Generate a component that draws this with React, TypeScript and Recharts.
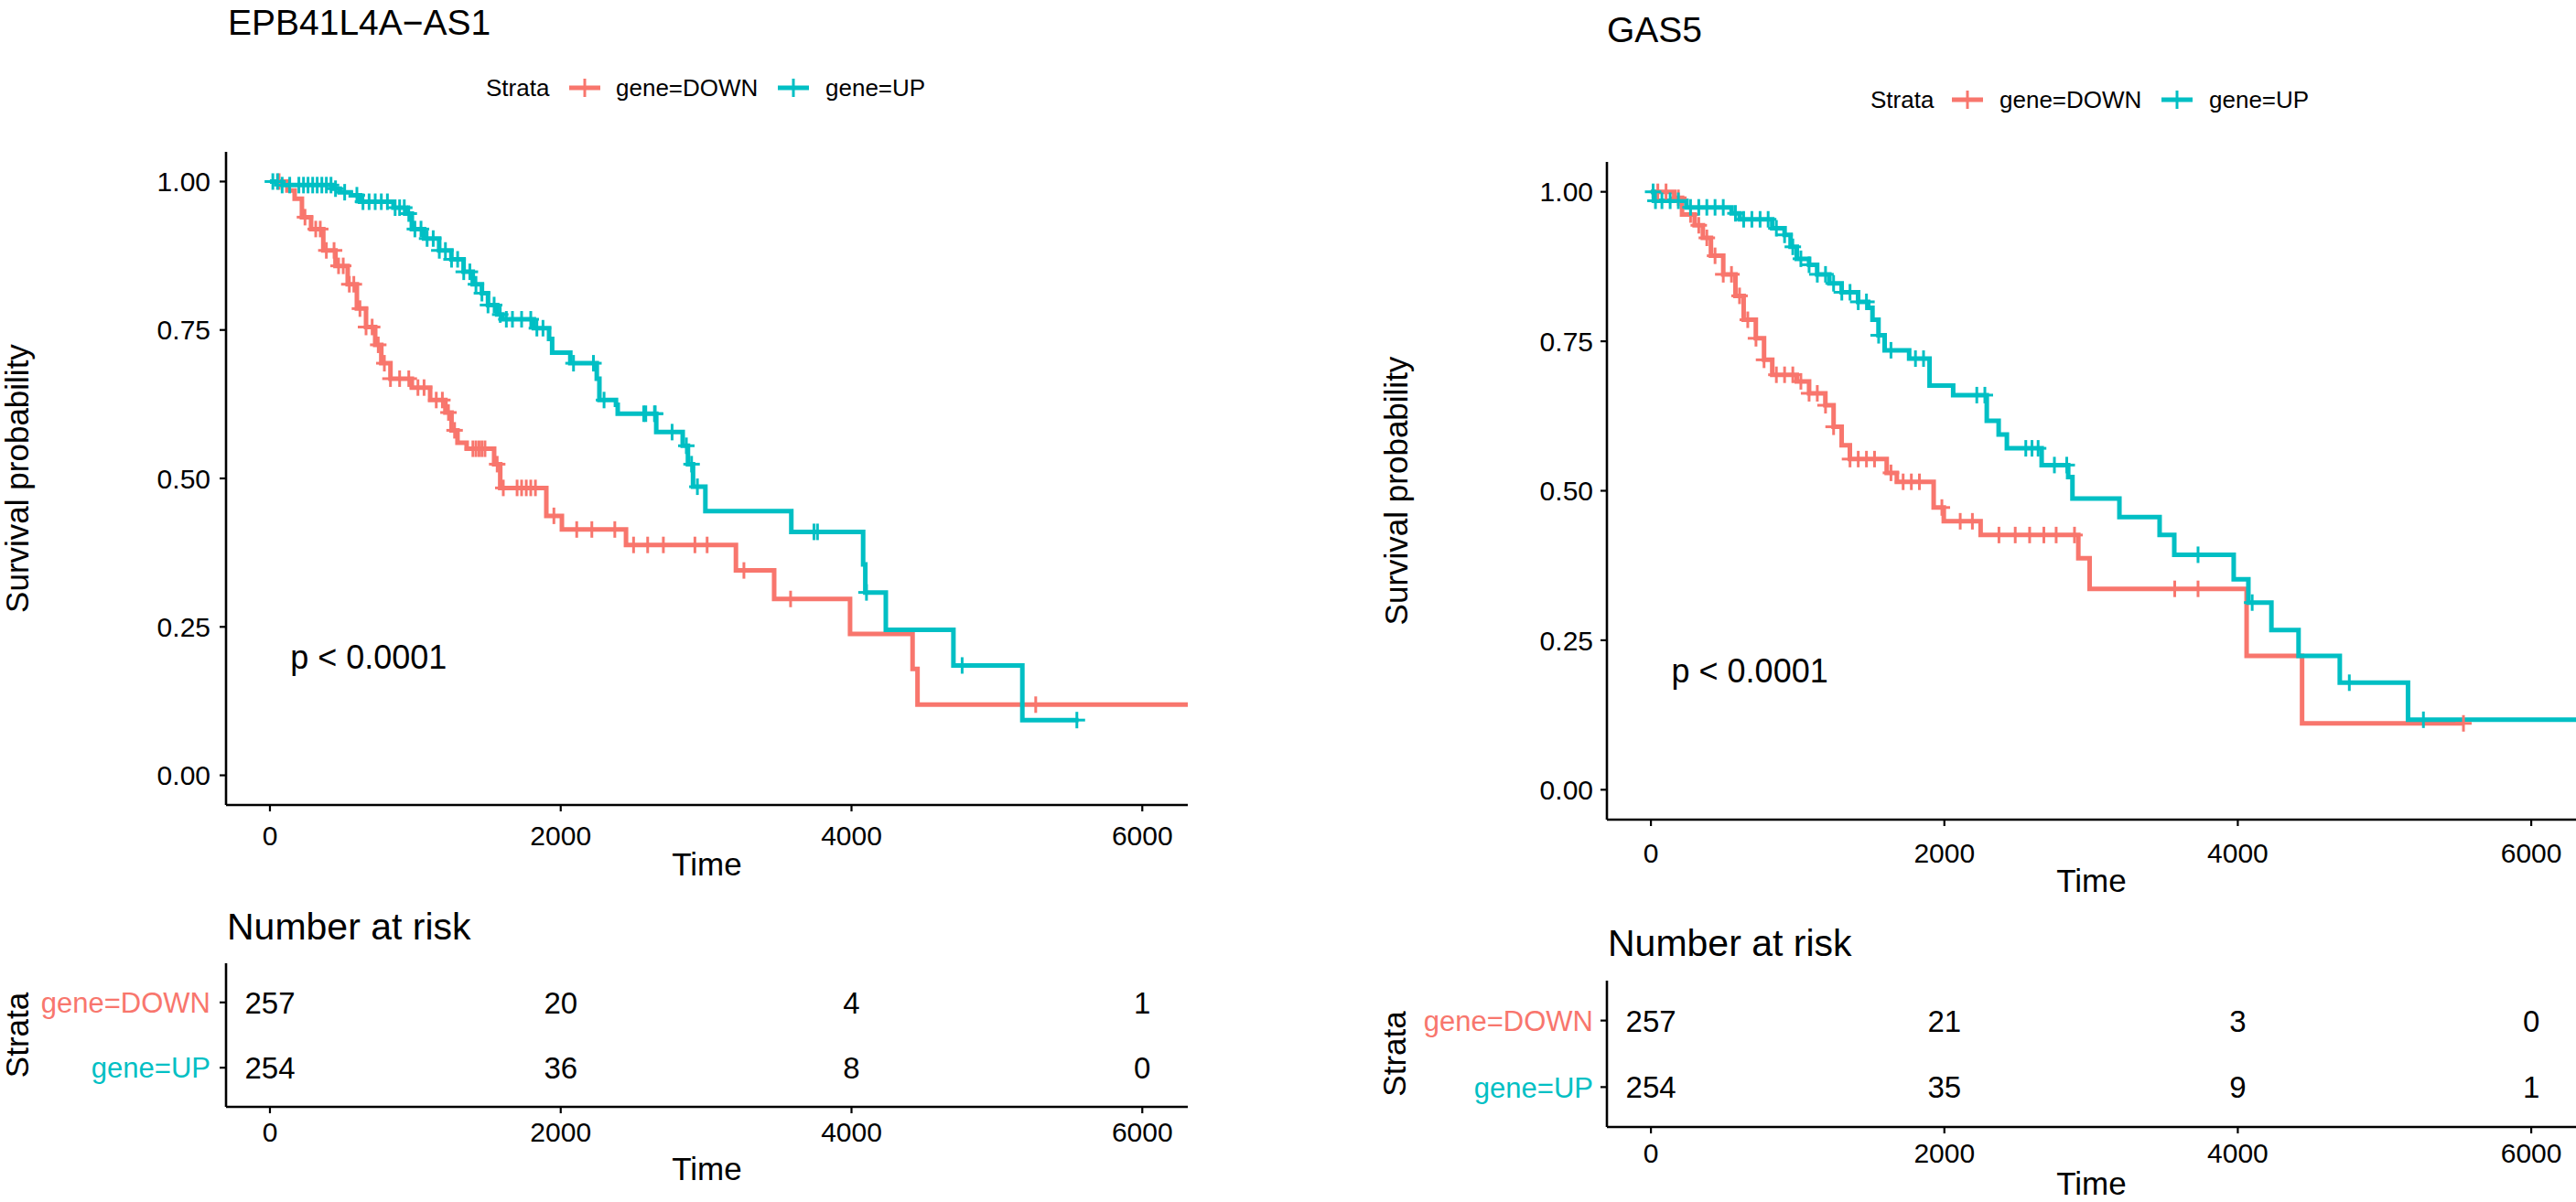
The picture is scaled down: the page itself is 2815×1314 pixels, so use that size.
import React from "react";
import { ComposedChart, Label, Line, Scatter, XAxis, YAxis } from "recharts";

const RED = "#F8766D";
const CYAN = "#00BFC4";
const FONT = '"Liberation Sans", Arial, Helvetica, sans-serif';

const TIME_TICKS = [0, 2000, 4000, 6000];
const SURV_TICKS = [0, 0.25, 0.5, 0.75, 1];
const STRATA = ["gene=DOWN", "gene=UP"];
const PVAL_TEXT = "p < 0.0001";

// EPB41L4A-AS1, [time, survival after the drop]
const EPB_DOWN = [
  [0, 1], [120, 0.985], [170, 0.971], [220, 0.94], [283, 0.92], [367, 0.884],
  [451, 0.858], [535, 0.827], [598, 0.786], [661, 0.755], [724, 0.725],
  [766, 0.694], [829, 0.668], [976, 0.653], [1102, 0.632], [1207, 0.611],
  [1249, 0.581], [1290, 0.56], [1353, 0.55], [1542, 0.524], [1584, 0.484],
  [1901, 0.437], [2008, 0.414], [2449, 0.388], [3205, 0.345], [3468, 0.297],
  [3990, 0.238], [4420, 0.179], [4454, 0.119], [6313, 0.119],
];
const EPB_UP = [
  [0, 1], [60, 0.994], [430, 0.988], [480, 0.982], [556, 0.977], [620, 0.966],
  [850, 0.956], [934, 0.946], [976, 0.92], [1060, 0.904], [1164, 0.884],
  [1248, 0.869], [1332, 0.848], [1395, 0.827], [1458, 0.812], [1500, 0.792],
  [1563, 0.776], [1600, 0.768], [1815, 0.753], [1920, 0.735], [1941, 0.712],
  [2066, 0.694], [2248, 0.668], [2266, 0.632], [2380, 0.624], [2392, 0.609],
  [2657, 0.578], [2839, 0.555], [2875, 0.524], [2910, 0.486], [2995, 0.445],
  [3586, 0.41], [4080, 0.355], [4095, 0.308], [4236, 0.245], [4701, 0.185],
  [5175, 0.093], [5561, 0.093],
];
const EPB_DOWN_CENSOR = [
  63, 241, 315, 346, 388, 441, 472, 504, 546, 577, 619, 661, 703, 745, 787,
  829, 892, 955, 1018, 1060, 1144, 1186, 1228, 1270, 1396, 1417, 1438, 1458,
  1479, 1563, 1605, 1700, 1731, 1763, 1794, 1826, 1953, 2110, 2214, 2372,
  2501, 2598, 2706, 2923, 3007, 3260, 3581, 5267,
];
const EPB_UP_CENSOR = [
  20, 52, 84, 136, 199, 231, 262, 294, 325, 357, 388, 420, 451, 514, 598, 640,
  682, 724, 766, 808, 861, 892, 924, 955, 997, 1039, 1081, 1123, 1165, 1207,
  1249, 1291, 1333, 1375, 1417, 1458, 1500, 1542, 1584, 1626, 1668, 1731,
  1794, 1836, 1878, 2088, 2225, 2298, 2571, 2585, 2645, 2650, 2766, 2864,
  2900, 2940, 3742, 3766, 4103, 4761, 5550,
];
const EPB_RISK_DOWN = [257, 20, 4, 1];
const EPB_RISK_UP = [254, 36, 8, 0];

// GAS5
const GAS_DOWN = [
  [0, 1], [159, 0.99], [212, 0.962], [298, 0.944], [354, 0.923], [409, 0.893],
  [493, 0.862], [576, 0.826], [632, 0.786], [715, 0.755], [771, 0.719],
  [827, 0.694], [994, 0.683], [1078, 0.663], [1189, 0.643], [1245, 0.607],
  [1300, 0.576], [1356, 0.553], [1607, 0.53], [1676, 0.515], [1927, 0.472],
  [1996, 0.449], [2247, 0.426], [2913, 0.387], [2990, 0.336], [4060, 0.224],
  [4438, 0.111], [5538, 0.111],
];
const GAS_UP = [
  [0, 1], [20, 0.985], [242, 0.974], [550, 0.964], [605, 0.954], [827, 0.939],
  [911, 0.928], [952, 0.908], [994, 0.888], [1078, 0.878], [1133, 0.862],
  [1216, 0.847], [1300, 0.832], [1412, 0.816], [1481, 0.806], [1510, 0.786],
  [1551, 0.76], [1593, 0.735], [1760, 0.721], [1899, 0.676], [2060, 0.66],
  [2289, 0.617], [2370, 0.594], [2426, 0.571], [2663, 0.543], [2844, 0.523],
  [2873, 0.487], [3193, 0.456], [3467, 0.426], [3567, 0.393], [3972, 0.352],
  [4072, 0.313], [4229, 0.267], [4414, 0.224], [4695, 0.179], [5160, 0.117],
  [6305, 0.117],
];
const GAS_DOWN_CENSOR = [
  47, 103, 187, 270, 326, 381, 437, 493, 549, 604, 660, 716, 771, 855, 911,
  967, 1022, 1078, 1134, 1190, 1245, 1357, 1413, 1469, 1524, 1636, 1719,
  1775, 1830, 1983, 2108, 2191, 2372, 2483, 2581, 2678, 2762, 2887, 3570,
  3729, 5538,
];
const GAS_UP_CENSOR = [
  15, 31, 75, 131, 187, 270, 326, 381, 437, 493, 576, 632, 688, 744, 799, 855,
  911, 967, 1022, 1078, 1134, 1190, 1245, 1301, 1357, 1413, 1469, 1552, 1636,
  1803, 1858, 2221, 2276, 2555, 2597, 2639, 2750, 2834, 3729, 4098, 4760,
  5265,
];
const GAS_RISK_DOWN = [257, 21, 3, 0];
const GAS_RISK_UP = [254, 35, 9, 1];

const toPoints = (steps: number[][]) => steps.map(([t, s]) => ({ t, s }));

const survAt = (steps: number[][], t: number) => {
  let s = steps[0][1];
  for (const [ts, v] of steps) {
    if (ts <= t) s = v;
    else break;
  }
  return s;
};

const toCensor = (steps: number[][], times: number[]) =>
  times.map((t) => ({ t, s: survAt(steps, t) }));

const riskRows = (down: number[], up: number[]) =>
  TIME_TICKS.flatMap((t, i) => [
    { t, row: 2, n: down[i] },
    { t, row: 1, n: up[i] },
  ]);

const AXIS_LINE = { stroke: "#000", strokeWidth: 2.6 };
const TICK_LINE = { stroke: "#000", strokeWidth: 2.2 };

const plus = (color: string) => (props: any) => {
  const { cx, cy } = props;
  if (cx == null || cy == null) return <g />;
  return (
    <g stroke={color} strokeWidth={3}>
      <line x1={cx - 9} x2={cx + 9} y1={cy} y2={cy} />
      <line x1={cx} x2={cx} y1={cy - 9} y2={cy + 9} />
    </g>
  );
};

const PText = (props: any) => (
  <text x={props.cx} y={props.cy} dy="0.36em" fontSize={36} fill="#000" textAnchor="start">
    {PVAL_TEXT}
  </text>
);

const RiskText = (props: any) => (
  <text x={props.cx} y={props.cy} dy="0.36em" fontSize={33} fill="#000" textAnchor="middle">
    {props.payload.n}
  </text>
);

const yTitle = (text: string, offset: number) => (p: any) => {
  const vb = p.viewBox;
  const x = vb.x + offset;
  const y = vb.y + vb.height / 2;
  return (
    <text x={x} y={y} dy="0.36em" fontSize={35} fill="#000" textAnchor="middle" transform={`rotate(-90 ${x} ${y})`}>
      {text}
    </text>
  );
};

function SurvPanel(p: any) {
  return (
    <div style={{ position: "absolute", left: p.left, top: p.top }}>
      <ComposedChart width={p.width} height={p.height} margin={p.margin}>
        <XAxis
          type="number"
          dataKey="t"
          domain={p.domain}
          allowDataOverflow
          ticks={TIME_TICKS}
          height={p.xAxisHeight}
          tickSize={7}
          tickMargin={p.xTickMargin}
          axisLine={AXIS_LINE}
          tickLine={TICK_LINE}
          tick={{ fill: "#000", fontSize: 30 }}
        >
          <Label value="Time" position="insideBottom" offset={0} fill="#000" fontSize={35} />
        </XAxis>
        <YAxis
          type="number"
          dataKey="s"
          domain={[-0.05, 1.05]}
          allowDataOverflow
          ticks={SURV_TICKS}
          tickFormatter={(v: number) => v.toFixed(2)}
          width={p.yAxisWidth}
          tickSize={7}
          tickMargin={p.yTickMargin}
          axisLine={AXIS_LINE}
          tickLine={TICK_LINE}
          tick={{ fill: "#000", fontSize: 30 }}
        >
          <Label content={yTitle("Survival probability", p.yLabelOffset)} />
        </YAxis>
        <Line data={toPoints(p.down)} dataKey="s" type="stepAfter" stroke={RED} strokeWidth={5} dot={false} isAnimationActive={false} />
        <Line data={toPoints(p.up)} dataKey="s" type="stepAfter" stroke={CYAN} strokeWidth={5} dot={false} isAnimationActive={false} />
        <Scatter data={toCensor(p.down, p.downCensor)} dataKey="s" shape={plus(RED)} isAnimationActive={false} />
        <Scatter data={toCensor(p.up, p.upCensor)} dataKey="s" shape={plus(CYAN)} isAnimationActive={false} />
        <Scatter data={[{ t: 140, s: 0.2 }]} dataKey="s" shape={PText} isAnimationActive={false} />
      </ComposedChart>
    </div>
  );
}

function RiskPanel(p: any) {
  const strataTick = (t: any) => {
    const v = t.payload.value;
    return (
      <text x={t.x} y={t.y} dy="0.36em" textAnchor="end" fontSize={31} fill={v === 2 ? RED : CYAN}>
        {v === 2 ? STRATA[0] : STRATA[1]}
      </text>
    );
  };
  return (
    <div style={{ position: "absolute", left: p.left, top: p.top }}>
      <ComposedChart width={p.width} height={p.height} margin={p.margin}>
        <XAxis
          type="number"
          dataKey="t"
          domain={p.domain}
          allowDataOverflow
          ticks={TIME_TICKS}
          height={p.xAxisHeight}
          tickSize={7}
          tickMargin={p.xTickMargin}
          axisLine={AXIS_LINE}
          tickLine={TICK_LINE}
          tick={{ fill: "#000", fontSize: 30 }}
        >
          <Label value="Time" position="insideBottom" offset={0} fill="#000" fontSize={35} />
        </XAxis>
        <YAxis
          type="number"
          dataKey="row"
          domain={[0.4, 2.6]}
          ticks={[1, 2]}
          width={p.yAxisWidth}
          tickSize={7}
          tickMargin={p.yTickMargin}
          axisLine={AXIS_LINE}
          tickLine={TICK_LINE}
          tick={strataTick}
        >
          <Label content={yTitle("Strata", p.yLabelOffset)} />
        </YAxis>
        <Scatter data={riskRows(p.riskDown, p.riskUp)} dataKey="row" shape={RiskText} isAnimationActive={false} />
      </ComposedChart>
    </div>
  );
}

function LegendRow({ x, y }: { x: number[]; y: number }) {
  const sym = (x0: number, color: string) => (
    <g stroke={color}>
      <line x1={x0} x2={x0 + 34} y1={y} y2={y} strokeWidth={5} />
      <line x1={x0 + 17} x2={x0 + 17} y1={y - 10} y2={y + 10} strokeWidth={3} />
    </g>
  );
  return (
    <g fontSize={26} fill="#000">
      <text x={x[0]} y={y} dy="0.36em">Strata</text>
      {sym(x[1], RED)}
      <text x={x[2]} y={y} dy="0.36em">{STRATA[0]}</text>
      {sym(x[3], CYAN)}
      <text x={x[4]} y={y} dy="0.36em">{STRATA[1]}</text>
    </g>
  );
}

export default function App() {
  return (
    <div
      style={{
        position: "absolute",
        left: 0,
        top: 0,
        width: 2815,
        height: 1314,
        background: "#fff",
        overflow: "hidden",
        fontFamily: FONT,
      }}
    >
      <svg width={2815} height={1314} style={{ position: "absolute", left: 0, top: 0 }}>
        <text x={249} y={38} fontSize={39} fill="#000">EPB41L4A−AS1</text>
        <text x={1756} y={46} fontSize={39} fill="#000">GAS5</text>
        <LegendRow x={[531, 622, 673, 850, 902]} y={96} />
        <LegendRow x={[2044, 2133, 2185, 2362, 2414]} y={109} />
        <text x={248} y={1027} fontSize={41} fill="#000">Number at risk</text>
        <text x={1757} y={1045} fontSize={41} fill="#000">Number at risk</text>
      </svg>

      <SurvPanel
        left={0} top={0} width={1300} height={975}
        margin={{ top: 166, right: 2, bottom: 18, left: 0 }}
        yAxisWidth={247} xAxisHeight={77} xTickMargin={16} yTickMargin={10} yLabelOffset={18}
        domain={[-302, 6313]}
        down={EPB_DOWN} up={EPB_UP} downCensor={EPB_DOWN_CENSOR} upCensor={EPB_UP_CENSOR}
      />
      <SurvPanel
        left={1500} top={0} width={1315} height={995}
        margin={{ top: 177, right: 0, bottom: 20, left: 0 }}
        yAxisWidth={256} xAxisHeight={79} xTickMargin={19} yTickMargin={8} yLabelOffset={25}
        domain={[-300, 6305]}
        down={GAS_DOWN} up={GAS_UP} downCensor={GAS_DOWN_CENSOR} upCensor={GAS_UP_CENSOR}
      />
      <RiskPanel
        left={0} top={1000} width={1300} height={314}
        margin={{ top: 53, right: 2, bottom: 24, left: 0 }}
        yAxisWidth={247} xAxisHeight={80} xTickMargin={10} yTickMargin={10} yLabelOffset={18}
        domain={[-302, 6313]}
        riskDown={EPB_RISK_DOWN} riskUp={EPB_RISK_UP}
      />
      <RiskPanel
        left={1500} top={1000} width={1315} height={314}
        margin={{ top: 72, right: 0, bottom: 8, left: 0 }}
        yAxisWidth={256} xAxisHeight={74} xTickMargin={11} yTickMargin={8} yLabelOffset={23}
        domain={[-300, 6305]}
        riskDown={GAS_RISK_DOWN} riskUp={GAS_RISK_UP}
      />
    </div>
  );
}
